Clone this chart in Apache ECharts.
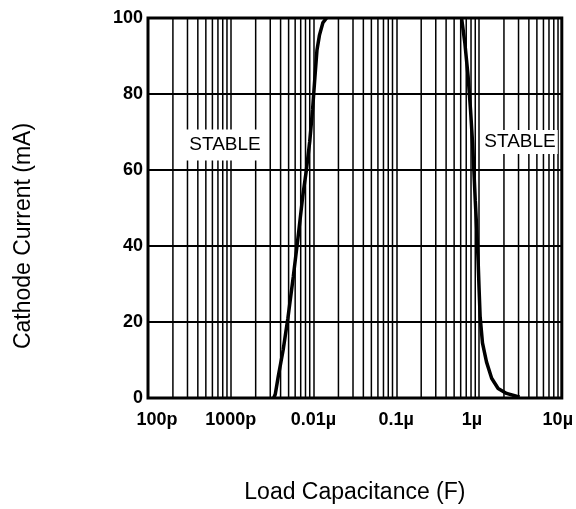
<!DOCTYPE html>
<html>
<head>
<meta charset="utf-8">
<script src="https://cdn.jsdelivr.net/npm/echarts@6/dist/echarts.min.js"></script>
<style>
html, body { margin: 0; padding: 0; background: #fff; }
#chart { width: 576px; height: 509px; }
</style>
</head>
<body>
<div id="chart"></div>
<script>
// decade labels from 100p to 10µ
const xTickLabels = ['100p', '1000p', '0.01µ', '0.1µ', '1µ', '10µ'];
const xTickStyle = ['l', 'c', 'c', 'c', 'r', 'r2'];
const decades = [1e-10, 1e-9, 1e-8, 1e-7, 1e-6];
const minorSteps = [2, 3, 4, 5, 6, 7, 8, 9];

// stability boundaries: [load capacitance (F), cathode current (mA)]
const leftCurve = [
  [3.3e-9, 0], [3.45e-9, 1], [3.75e-9, 5.7], [4.3e-9, 12.7], [4.9e-9, 21],
  [5.7e-9, 32], [6.6e-9, 43.5], [7.4e-9, 53], [8.2e-9, 60], [9.0e-9, 67.5],
  [9.75e-9, 76], [1.04e-8, 84.5], [1.1e-8, 91.5], [1.18e-8, 95.5],
  [1.3e-8, 98.8], [1.44e-8, 100]
];
const rightCurve = [
  [6.15e-7, 100], [6.74e-7, 93.4], [7.38e-7, 84.6], [7.89e-7, 75.9],
  [8.35e-7, 67.1], [8.73e-7, 58.3], [9.0e-7, 52], [9.4e-7, 44],
  [9.75e-7, 36], [1.0e-6, 29], [1.03e-6, 21.5], [1.1e-6, 14.5],
  [1.23e-6, 9.5], [1.42e-6, 5.2], [1.7e-6, 2.5], [2.15e-6, 1.2],
  [2.9e-6, 0.4], [3.1e-6, 0.3]
];

const font = '"Liberation Sans", Arial, sans-serif';
const chart = echarts.init(document.getElementById('chart'));

// 2..9 lines inside each decade
const minorLines = [];
decades.forEach(d => minorSteps.forEach(m => minorLines.push([d * m, 0])));

const tickFont = { fontSize: 18, fontWeight: 'bold', fontFamily: font, color: '#000' };

const option = {
  animation: false,
  grid: {
    left: 148, right: 14, top: 18, bottom: 111,
    show: true, borderColor: '#000', borderWidth: 3
  },
  xAxis: {
    type: 'log',
    logBase: 10,
    min: 1e-10,
    max: 1e-5,
    name: 'Load Capacitance (F)',
    nameLocation: 'middle',
    nameGap: 83,
    nameTextStyle: { fontSize: 23, fontFamily: font, color: '#000' },
    axisLine: { show: false },
    axisTick: { show: false },
    axisLabel: {
      margin: 13,
      ...tickFont,
      formatter: function (v) {
        const i = Math.round(Math.log10(v)) + 10;
        return '{' + xTickStyle[i] + '|' + xTickLabels[i] + '}';
      },
      rich: {
        c: { ...tickFont },
        l: { ...tickFont, padding: [0, 0, 0, 18] },
        r: { ...tickFont, padding: [0, 14, 0, 0] },
        r2: { ...tickFont, padding: [0, 8, 0, 0] }
      }
    },
    splitLine: { show: true, lineStyle: { color: '#000', width: 1.5 } }
  },
  yAxis: {
    type: 'value',
    min: 0,
    max: 100,
    interval: 20,
    name: 'Cathode Current (mA)',
    nameLocation: 'middle',
    nameGap: 113,
    // the title sits a bit below the middle of the plot
    nameTextStyle: { fontSize: 23, fontFamily: font, color: '#000', padding: [0, 56, 0, 0] },
    axisLine: { show: false },
    axisTick: { show: false },
    axisLabel: { margin: 5, ...tickFont, padding: [5, 0, 0, 0] },
    splitLine: { show: true, lineStyle: { color: '#000', width: 2 } }
  },
  series: [
    {
      name: 'minor grid',
      type: 'custom',
      data: minorLines,
      silent: true,
      z: 1,
      renderItem: function (params, api) {
        const v = api.value(0);
        const p0 = api.coord([v, 0]);
        const p1 = api.coord([v, 100]);
        return {
          type: 'line',
          shape: { x1: p0[0], y1: p0[1], x2: p1[0], y2: p1[1] },
          style: { stroke: '#000', lineWidth: 1.5 }
        };
      }
    },
    {
      name: 'left',
      type: 'line',
      data: leftCurve,
      showSymbol: false,
      z: 10,
      lineStyle: { color: '#000', width: 3.5 }
    },
    {
      name: 'right',
      type: 'line',
      data: rightCurve,
      showSymbol: false,
      z: 10,
      lineStyle: { color: '#000', width: 3.5 }
    }
  ],
  graphic: [
    {
      type: 'text', x: 224, y: 145, z: 100,
      style: {
        text: 'STABLE', fontSize: 19, fontFamily: font, fill: '#000',
        align: 'center', verticalAlign: 'middle',
        backgroundColor: '#fff', padding: [7, 6, 5, 8]
      }
    },
    {
      type: 'text', x: 520, y: 142, z: 100,
      style: {
        text: 'STABLE', fontSize: 19, fontFamily: font, fill: '#000',
        align: 'center', verticalAlign: 'middle',
        backgroundColor: '#fff', padding: [3, 2, 2, 2]
      }
    }
  ]
};

chart.setOption(option);
</script>
</body>
</html>
